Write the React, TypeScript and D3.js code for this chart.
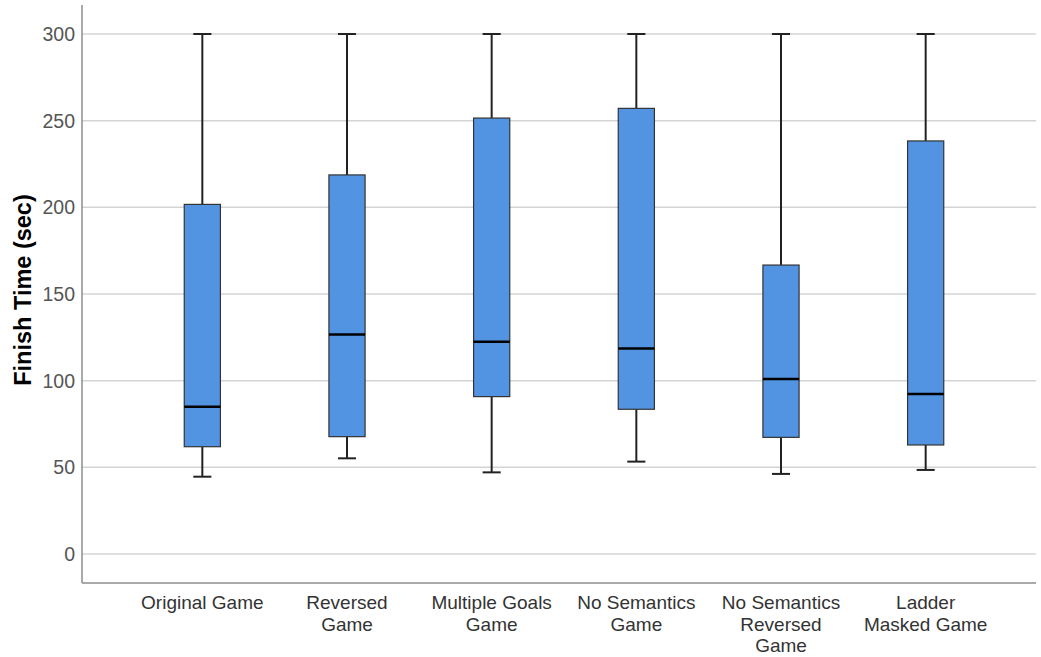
import React from "react";
import * as d3 from "d3";

const categories: string[][] = [
  ["Original Game"],
  ["Reversed", "Game"],
  ["Multiple Goals", "Game"],
  ["No Semantics", "Game"],
  ["No Semantics", "Reversed", "Game"],
  ["Ladder", "Masked Game"],
];
const whiskerLow = [44.6, 55.2, 47.1, 53.3, 46.2, 48.5];
const q1 = [61.9, 67.7, 90.8, 83.5, 67.3, 62.9];
const median = [85, 126.7, 122.5, 118.6, 101, 92.3];
const q3 = [201.7, 218.7, 251.5, 257.1, 166.7, 238.3];
const whiskerHigh = [300, 300, 300, 300, 300, 300];
const yTicks = [0, 50, 100, 150, 200, 250, 300];

export default function App() {
  const W = 1041, H = 657;
  const left = 82, right = 1036, bottom = 583, top = 5;
  const y = d3.scaleLinear().domain([0, 300]).range([554, 34]);
  const x = d3.scaleBand<number>().domain(d3.range(categories.length)).range([130, 998]).padding(0);
  const bw = x.bandwidth();
  const boxW = bw * 0.25;
  const capW = boxW * 0.5;
  const font = "'Liberation Sans', Arial, sans-serif";

  return (
    <svg width={W} height={H} style={{ position: "absolute", left: 0, top: 0 }}>
      <rect width={W} height={H} fill="#fff" />
      {yTicks.map((t) => (
        <g key={t}>
          <line x1={left} x2={right} y1={y(t)} y2={y(t)} stroke="#d4d4d4" strokeWidth={1.5} />
          <text x={left - 7} y={y(t)} dy="0.36em" textAnchor="end" fontFamily={font} fontSize={19.5} fill="#555">
            {t}
          </text>
        </g>
      ))}
      <line x1={left} x2={left} y1={top} y2={bottom} stroke="#8c8c8c" strokeWidth={1.5} />
      <line x1={left} x2={right} y1={bottom} y2={bottom} stroke="#8c8c8c" strokeWidth={1.5} />
      <text
        transform={`translate(31,290) rotate(-90)`}
        textAnchor="middle"
        fontFamily={font}
        fontSize={23.5}
        fontWeight="bold"
        fill="#000"
      >
        Finish Time (sec)
      </text>
      {categories.map((c, i) => {
        const cx = (x(i) as number) + bw / 2;
        return (
          <g key={i}>
            <line x1={cx} x2={cx} y1={y(whiskerHigh[i])} y2={y(q3[i])} stroke="#222" strokeWidth={2} />
            <line x1={cx} x2={cx} y1={y(q1[i])} y2={y(whiskerLow[i])} stroke="#222" strokeWidth={2} />
            <line x1={cx - capW / 2} x2={cx + capW / 2} y1={y(whiskerHigh[i])} y2={y(whiskerHigh[i])} stroke="#222" strokeWidth={2} />
            <line x1={cx - capW / 2} x2={cx + capW / 2} y1={y(whiskerLow[i])} y2={y(whiskerLow[i])} stroke="#222" strokeWidth={2} />
            <rect
              x={cx - boxW / 2}
              y={y(q3[i])}
              width={boxW}
              height={y(q1[i]) - y(q3[i])}
              fill="#5294e2"
              stroke="#333"
              strokeWidth={1.2}
            />
            <line x1={cx - boxW / 2} x2={cx + boxW / 2} y1={y(median[i])} y2={y(median[i])} stroke="#000" strokeWidth={2.5} />
            <text textAnchor="middle" fontFamily={font} fontSize={19} fill="#333">
              {c.map((line, j) => (
                <tspan key={j} x={cx} y={609 + j * 21.5}>
                  {line}
                </tspan>
              ))}
            </text>
          </g>
        );
      })}
    </svg>
  );
}
